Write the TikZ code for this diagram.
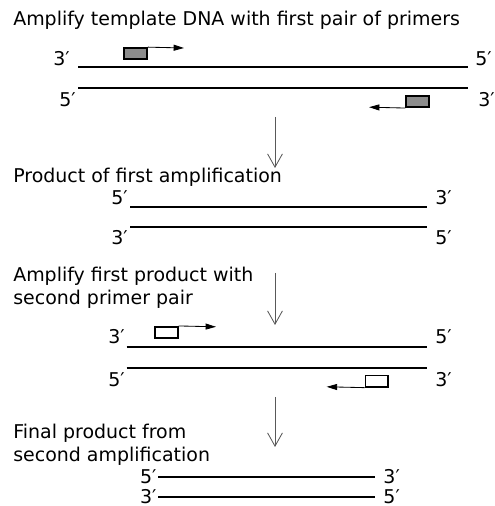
\documentclass[tikz,border=0pt]{standalone}
\usepackage{fontspec}
\setmainfont{DejaVu Sans}
\usetikzlibrary{arrows.meta}

\tikzset{
  strand/.style={line width=1.4pt},
  primerbox/.style={draw, line width=1.2pt, minimum width=0.57cm, minimum height=0.28cm, inner sep=0pt},
  extend/.style={-{Triangle[length=2.6mm,width=1.5mm]}, line width=0.6pt},
  stage/.style={-{Straight Barb[length=3.3mm,width=3.7mm]}, draw=black!65, line width=0.6pt},
  caption/.style={anchor=base west, align=left, inner sep=0pt, font=\fontsize{13.5}{16.5}\selectfont},
  endlabel/.style={inner sep=0pt, font=\fontsize{13.5}{16}\selectfont}
}

\begin{document}
\begin{tikzpicture}
		\useasboundingbox (0,0) rectangle (12.35,12.65);

		% template DNA and first primers
		\node[caption] (cap1) at (0.325,12.0) {Amplify template DNA with first pair of primers};
		\coordinate (a1) at (1.95,10.975); \coordinate (b1) at (11.7,10.975);
		\coordinate (a2) at (1.95,10.45);  \coordinate (b2) at (11.7,10.45);
		\draw[strand] (a1) -- (b1);
		\draw[strand] (a2) -- (b2);
		\node[endlabel,anchor=base east] (a1l) at (1.75,11.0) {3′};
		\node[endlabel,anchor=base west] (b1l) at (11.875,11.0) {5′};
		\node[endlabel,anchor=base east] (a2l) at (1.9,9.975) {5′};
		\node[endlabel,anchor=base west] (b2l) at (11.95,9.975) {3′};
		\node[primerbox,fill=black!45] (p1) at (3.39,11.31) {};
		\node[primerbox,fill=black!45] (p2) at (10.44,10.11) {};
		\coordinate (e1) at (4.6,11.45);
		\coordinate (e2) at (9.225,9.97);
		\draw[extend] (p1.north east) -- (e1);
		\draw[extend] (p2.south west) -- (e2);

		\coordinate (s1) at (6.875,9.725); \coordinate (t1) at (6.875,8.45);
		\draw[stage] (s1) -- (t1);

		% first product
		\node[caption] (cap2) at (0.325,8.075) {Product of first amplification};
		\coordinate (a3) at (3.25,7.475); \coordinate (b3) at (10.675,7.475);
		\coordinate (a4) at (3.25,6.975); \coordinate (b4) at (10.675,6.975);
		\draw[strand] (a3) -- (b3);
		\draw[strand] (a4) -- (b4);
		\node[endlabel,anchor=base east] (a3l) at (3.2,7.54) {5′};
		\node[endlabel,anchor=base west] (b3l) at (10.875,7.54) {3′};
		\node[endlabel,anchor=base east] (a4l) at (3.2,6.525) {3′};
		\node[endlabel,anchor=base west] (b4l) at (10.875,6.525) {5′};

		\coordinate (s2) at (6.875,5.825); \coordinate (t2) at (6.875,4.525);
		\draw[stage] (s2) -- (t2);

		% second primer pair (base of a two-line node is its last line)
		\node[caption] (cap3) at (0.325,5.04) {Amplify first product with\\second primer pair};
		\coordinate (a5) at (3.167,3.975); \coordinate (b5) at (10.667,3.975);
		\coordinate (a6) at (3.167,3.45);  \coordinate (b6) at (10.667,3.45);
		\draw[strand] (a5) -- (b5);
		\draw[strand] (a6) -- (b6);
		\node[endlabel,anchor=base east] (a5l) at (3.125,4.05) {3′};
		\node[endlabel,anchor=base west] (b5l) at (10.875,4.05) {5′};
		\node[endlabel,anchor=base east] (a6l) at (3.125,2.98) {5′};
		\node[endlabel,anchor=base west] (b6l) at (10.875,2.98) {3′};
		\node[primerbox,fill=white] (p3) at (4.16,4.34) {};
		\node[primerbox,fill=white] (p4) at (9.42,3.12) {};
		\coordinate (e3) at (5.4,4.48);
		\coordinate (e4) at (8.167,2.98);
		\draw[extend] (p3.north east) -- (e3);
		\draw[extend] (p4.south west) -- (e4);

		\coordinate (s3) at (6.875,2.725); \coordinate (t3) at (6.875,1.475);
		\draw[stage] (s3) -- (t3);

		% final product
		\node[caption] (cap4) at (0.325,1.1) {Final product from\\second amplification};
		\coordinate (a7) at (3.958,0.725); \coordinate (b7) at (9.375,0.725);
		\coordinate (a8) at (3.958,0.225); \coordinate (b8) at (9.375,0.225);
		\draw[strand] (a7) -- (b7);
		\draw[strand] (a8) -- (b8);
		\node[endlabel,anchor=east] (a7l) at (3.92,0.74) {5′};
		\node[endlabel,anchor=west] (b7l) at (9.58,0.74) {3′};
		\node[endlabel,anchor=east] (a8l) at (3.92,0.24) {3′};
		\node[endlabel,anchor=west] (b8l) at (9.58,0.24) {5′};

		\end{tikzpicture}
\end{document}
